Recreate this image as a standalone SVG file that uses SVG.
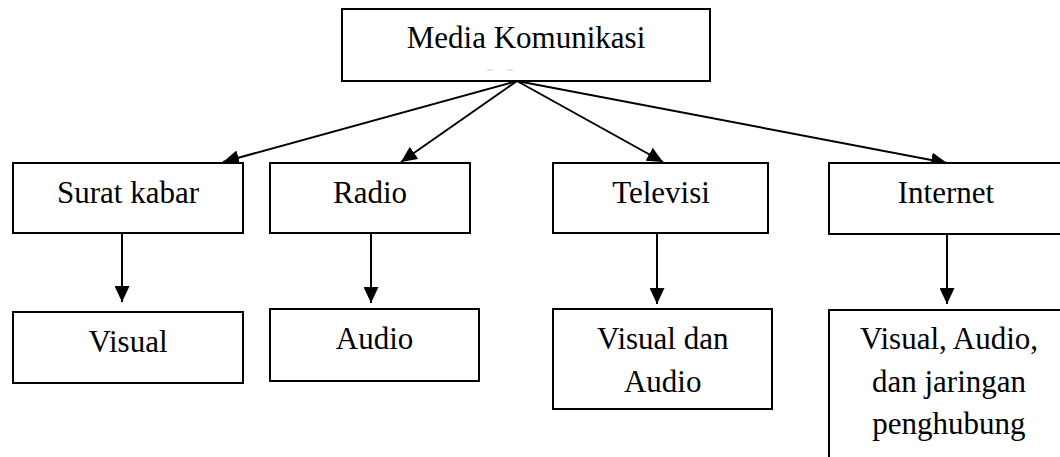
<svg xmlns="http://www.w3.org/2000/svg" width="1060" height="457" viewBox="0 0 1060 457">
<style>
.box{fill:#fff;stroke:#000;stroke-width:2}
.t{font-family:"Liberation Serif","Times New Roman",serif;font-size:31px;fill:#000;text-anchor:middle}
.c{stroke:#000;stroke-width:2;fill:none}
</style>
<defs>
<marker id="ah" markerUnits="userSpaceOnUse" markerWidth="16" markerHeight="15" refX="16" refY="7.5" orient="auto">
<path d="M0,0 L16,7.5 L0,15 z" fill="#000"/>
</marker>
</defs>
<rect width="1060" height="457" fill="#fff"/>
<g id="connectors">
<line class="c" x1="517" y1="81" x2="223" y2="162" marker-end="url(#ah)"/>
<line class="c" x1="517" y1="81" x2="401" y2="162" marker-end="url(#ah)"/>
<line class="c" x1="517" y1="81" x2="663" y2="162" marker-end="url(#ah)"/>
<line class="c" x1="517" y1="81" x2="947" y2="163" marker-end="url(#ah)"/>
<line class="c" x1="122" y1="233" x2="122" y2="302" marker-end="url(#ah)"/>
<line class="c" x1="371" y1="233" x2="371" y2="303" marker-end="url(#ah)"/>
<line class="c" x1="657" y1="233" x2="657" y2="304" marker-end="url(#ah)"/>
<line class="c" x1="947" y1="234" x2="947" y2="304" marker-end="url(#ah)"/>
</g>
<g id="media-komunikasi">
<rect class="box" x="342" y="9" width="368" height="72"/>
<text class="t" x="526" y="48">Media Komunikasi</text>
<line x1="487" y1="70" x2="493" y2="70" stroke="#ccc" stroke-width="1"/>
<line x1="507" y1="70" x2="513" y2="70" stroke="#ccc" stroke-width="1"/>
</g>
<g id="surat-kabar">
<rect class="box" x="13" y="163" width="230" height="70"/>
<text class="t" x="128" y="203">Surat kabar</text>
</g>
<g id="radio">
<rect class="box" x="270" y="163" width="200" height="70"/>
<text class="t" x="370" y="203">Radio</text>
</g>
<g id="televisi">
<rect class="box" x="553" y="163" width="215" height="70"/>
<text class="t" x="661" y="203">Televisi</text>
</g>
<g id="internet">
<rect class="box" x="829" y="163" width="260" height="71"/>
<text class="t" x="946" y="203">Internet</text>
</g>
<g id="visual">
<rect class="box" x="13" y="312" width="230" height="71"/>
<text class="t" x="128" y="352">Visual</text>
</g>
<g id="audio">
<rect class="box" x="270" y="309" width="209" height="72"/>
<text class="t" x="374.5" y="349">Audio</text>
</g>
<g id="visual-dan-audio">
<rect class="box" x="553" y="309" width="219" height="100"/>
<text class="t" x="662.7" y="349">Visual dan</text>
<text class="t" x="662.7" y="391.7">Audio</text>
</g>
<g id="visual-audio-jaringan">
<rect class="box" x="829" y="310" width="260" height="200"/>
<text class="t" x="949" y="349">Visual, Audio,</text>
<text class="t" x="949" y="391.7">dan jaringan</text>
<text class="t" x="949" y="434">penghubung</text>
</g>
</svg>
